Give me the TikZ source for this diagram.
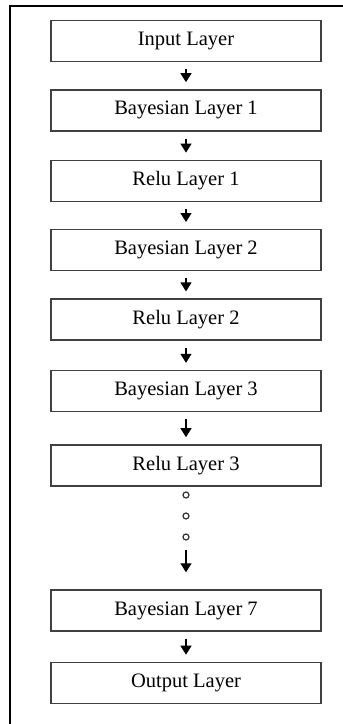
\documentclass[tikz,border=0pt]{standalone}
\usepackage{fontspec}
\setmainfont{Liberation Serif}
\usetikzlibrary{positioning,arrows.meta}

\begin{document}
\begin{tikzpicture}[x=1pt,y=1pt,
    layer/.style={draw=black!75,line width=1.4pt,minimum width=270pt,
        minimum height=41pt,inner sep=0pt,font=\fontsize{20.5}{24}\selectfont},
    flow/.style={line width=1.3pt,-{Triangle[width=11pt,length=9pt]}},
    gap/.style={circle,draw=black!80,line width=1.2pt,minimum size=6pt,inner sep=0pt}]
\useasboundingbox (0,0) rectangle (343,-724);
\clip (0,0) rectangle (343,-724);
% outer frame, only the top and left edges fall on the page
\draw[line width=2.5pt] (10,-740) -- (10,-6) -- (360,-6);
% the stack of layers, top to bottom
\node[layer] (in) at (186,-41) {Input Layer};
\node[layer,below=27pt of in] (b1) {Bayesian Layer 1};
\node[layer,below=28pt of b1] (r1) {Relu Layer 1};
\node[layer,below=27pt of r1] (b2) {Bayesian Layer 2};
\node[layer,below=27pt of b2] (r2) {Relu Layer 2};
\node[layer,below=29pt of r2] (b3) {Bayesian Layer 3};
\node[layer,below=32pt of b3] (r3) {Relu Layer 3};
\node[layer] (b7) at (186,-610.5) {Bayesian Layer 7};
\node[layer,below=30pt of b7] (out) {Output Layer};
% arrows between neighbouring layers
\foreach \a/\b in {in/b1,b1/r1,r1/b2,b2/r2,r2/b3,b3/r3,b7/out}
    \draw[flow] ([yshift=-7pt]\a.south) -- ([yshift=7pt]\b.north);
% skipped layers
\node[gap] (d1) at (186,-495) {};
\node[gap] (d2) at (186,-516) {};
\node[gap] (d3) at (186,-537) {};
\coordinate (skip) at (186,-550);
\draw[flow] (skip) -- ([yshift=17pt]b7.north);
\end{tikzpicture}
\end{document}
